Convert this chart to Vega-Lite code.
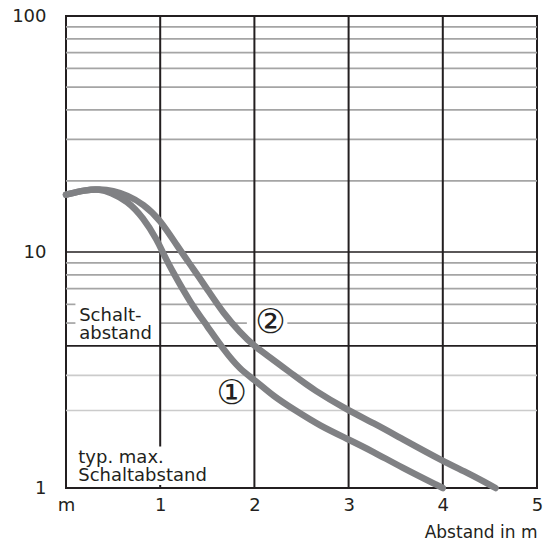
{
  "$schema": "https://vega.github.io/schema/vega-lite/v6.json",
  "width": 471,
  "height": 472,
  "autosize": {"type": "none"},
  "padding": {"left": 66, "top": 16, "right": 7, "bottom": 56},
  "background": "white",
  "config": {"view": {"stroke": "#231f20", "strokeWidth": 2}, "font": "DejaVu Sans"},
  "datasets": {
    "h": [
      {"y": 90, "x1": 0, "x2": 5, "kind": "minor"},
      {"y": 80, "x1": 0, "x2": 5, "kind": "minor"},
      {"y": 70, "x1": 0, "x2": 5, "kind": "minor"},
      {"y": 60, "x1": 0, "x2": 5, "kind": "minor"},
      {"y": 50, "x1": 0, "x2": 5, "kind": "minor"},
      {"y": 40, "x1": 0, "x2": 5, "kind": "minor"},
      {"y": 30, "x1": 0, "x2": 5, "kind": "minor"},
      {"y": 20, "x1": 0, "x2": 5, "kind": "minor"},
      {"y": 9, "x1": 0, "x2": 5, "kind": "minor"},
      {"y": 8, "x1": 0, "x2": 5, "kind": "minor"},
      {"y": 7, "x1": 0, "x2": 5, "kind": "minor"},
      {"y": 6, "x1": 0, "x2": 0.1, "kind": "minor"},
      {"y": 6, "x1": 1, "x2": 5, "kind": "minor"},
      {"y": 5, "x1": 0, "x2": 0.1, "kind": "minor"},
      {"y": 5, "x1": 1, "x2": 1.92, "kind": "minor"},
      {"y": 5, "x1": 2.35, "x2": 5, "kind": "minor"},
      {"y": 3, "x1": 0, "x2": 5, "kind": "light"},
      {"y": 2.13, "x1": 0, "x2": 5, "kind": "light"},
      {"y": 10, "x1": 0, "x2": 5, "kind": "major"},
      {"y": 4, "x1": 0, "x2": 5, "kind": "bold"}
    ],
    "v": [
      {"x": 1, "y1": 1.5, "y2": 100},
      {"x": 1, "y1": 1, "y2": 1.03},
      {"x": 2, "y1": 1, "y2": 100},
      {"x": 3, "y1": 1, "y2": 100},
      {"x": 4, "y1": 1, "y2": 100}
    ],
    "curves": [
      {"s": "1", "i": 1, "x": 0, "y": 17.5},
      {"s": "1", "i": 2, "x": 0.2, "y": 18.3},
      {"s": "1", "i": 3, "x": 0.36, "y": 18.5},
      {"s": "1", "i": 4, "x": 0.47, "y": 17.9},
      {"s": "1", "i": 5, "x": 0.65, "y": 16.5},
      {"s": "1", "i": 6, "x": 0.82, "y": 14.0},
      {"s": "1", "i": 7, "x": 0.97, "y": 11.2},
      {"s": "1", "i": 8, "x": 1.04, "y": 9.7},
      {"s": "1", "i": 9, "x": 1.14, "y": 8.15},
      {"s": "1", "i": 10, "x": 1.32, "y": 6.1},
      {"s": "1", "i": 11, "x": 1.5, "y": 4.85},
      {"s": "1", "i": 12, "x": 1.67, "y": 3.87},
      {"s": "1", "i": 13, "x": 1.85, "y": 3.17},
      {"s": "1", "i": 14, "x": 2.0, "y": 2.88},
      {"s": "1", "i": 15, "x": 2.2, "y": 2.45},
      {"s": "1", "i": 16, "x": 2.42, "y": 2.15},
      {"s": "1", "i": 17, "x": 2.7, "y": 1.83},
      {"s": "1", "i": 18, "x": 2.98, "y": 1.62},
      {"s": "1", "i": 19, "x": 3.27, "y": 1.42},
      {"s": "1", "i": 20, "x": 3.55, "y": 1.23},
      {"s": "1", "i": 21, "x": 4.0, "y": 1.0},
      {"s": "2", "i": 1, "x": 0, "y": 17.5},
      {"s": "2", "i": 2, "x": 0.2, "y": 18.3},
      {"s": "2", "i": 3, "x": 0.36, "y": 18.5},
      {"s": "2", "i": 4, "x": 0.5, "y": 18.2},
      {"s": "2", "i": 5, "x": 0.65, "y": 17.4},
      {"s": "2", "i": 6, "x": 0.82, "y": 16.0},
      {"s": "2", "i": 7, "x": 1.0, "y": 13.7},
      {"s": "2", "i": 8, "x": 1.18, "y": 10.6},
      {"s": "2", "i": 9, "x": 1.35, "y": 8.5},
      {"s": "2", "i": 10, "x": 1.5, "y": 6.95},
      {"s": "2", "i": 11, "x": 1.67, "y": 5.5},
      {"s": "2", "i": 12, "x": 1.85, "y": 4.55},
      {"s": "2", "i": 13, "x": 2.0, "y": 3.98},
      {"s": "2", "i": 14, "x": 2.2, "y": 3.5},
      {"s": "2", "i": 15, "x": 2.42, "y": 3.0},
      {"s": "2", "i": 16, "x": 2.63, "y": 2.6},
      {"s": "2", "i": 17, "x": 2.98, "y": 2.15},
      {"s": "2", "i": 18, "x": 3.27, "y": 1.88},
      {"s": "2", "i": 19, "x": 3.55, "y": 1.63},
      {"s": "2", "i": 20, "x": 4.0, "y": 1.3},
      {"s": "2", "i": 21, "x": 4.28, "y": 1.15},
      {"s": "2", "i": 22, "x": 4.56, "y": 1.0}
    ],
    "notes": [
      {"t": ["Schalt-", "abstand"], "x": 0.14, "y": 5.34},
      {"t": ["typ. max.", "Schaltabstand"], "x": 0.13, "y": 1.343}
    ],
    "marks": [
      {"t": "②", "x": 2.17, "y": 5.0},
      {"t": "①", "x": 1.76, "y": 2.49}
    ]
  },
  "layer": [
    {
      "data": {"name": "h"},
      "mark": {"type": "rule"},
      "encoding": {
        "y": {
          "field": "y", "type": "quantitative",
          "scale": {"type": "log", "domain": [1, 100], "nice": false},
          "axis": {
            "values": [1, 10, 100], "format": "d", "domain": false, "ticks": false, "grid": false,
            "labelPadding": 20, "labelFontSize": 18, "labelColor": "#231f20", "labelFlush": false,
            "labelOverlap": false, "title": null, "labelFont": "DejaVu Sans"
          }
        },
        "x": {
          "field": "x1", "type": "quantitative",
          "scale": {"domain": [0, 5], "nice": false, "zero": false},
          "axis": {
            "values": [0, 1, 2, 3, 4, 5], "format": "d", "labelExpr": "datum.value == 0 ? 'm' : datum.label",
            "domain": false, "ticks": false, "grid": false, "labelPadding": 8, "labelFontSize": 18,
            "labelColor": "#231f20", "labelFlush": false, "labelOverlap": false, "labelFont": "DejaVu Sans",
            "title": "Abstand in m", "titleAnchor": "end", "titleFontSize": 17, "titleFontWeight": "normal",
            "titleColor": "#231f20", "titlePadding": 10, "titleFont": "DejaVu Sans"
          }
        },
        "x2": {"field": "x2"},
        "color": {
          "field": "kind", "type": "nominal",
          "scale": {"domain": ["minor", "light", "major", "bold"], "range": ["#a5a5a5", "#cbcbcb", "#231f20", "#231f20"]},
          "legend": null
        },
        "strokeWidth": {
          "field": "kind", "type": "nominal",
          "scale": {"domain": ["minor", "light", "major", "bold"], "range": [1.7, 1.7, 2.2, 2.8]},
          "legend": null
        }
      }
    },
    {
      "data": {"name": "v"},
      "mark": {"type": "rule", "color": "#231f20", "strokeWidth": 2},
      "encoding": {
        "x": {"field": "x", "type": "quantitative"},
        "y": {"field": "y1", "type": "quantitative"},
        "y2": {"field": "y2"}
      }
    },
    {
      "data": {"name": "curves"},
      "mark": {"type": "line", "color": "#808184", "strokeWidth": 6.5, "strokeCap": "round", "interpolate": "basis"},
      "encoding": {
        "x": {"field": "x", "type": "quantitative"},
        "y": {"field": "y", "type": "quantitative"},
        "detail": {"field": "s"},
        "order": {"field": "i", "type": "quantitative"}
      }
    },
    {
      "data": {"name": "notes"},
      "mark": {"type": "text", "align": "left", "baseline": "middle", "fontSize": 18, "lineHeight": 18, "color": "#231f20", "font": "DejaVu Sans"},
      "encoding": {
        "x": {"field": "x", "type": "quantitative"},
        "y": {"field": "y", "type": "quantitative"},
        "text": {"field": "t"}
      }
    },
    {
      "data": {"name": "marks"},
      "mark": {"type": "text", "align": "center", "baseline": "middle", "fontSize": 34, "color": "#231f20", "font": "DejaVu Sans"},
      "encoding": {
        "x": {"field": "x", "type": "quantitative"},
        "y": {"field": "y", "type": "quantitative"},
        "text": {"field": "t"}
      }
    }
  ]
}
